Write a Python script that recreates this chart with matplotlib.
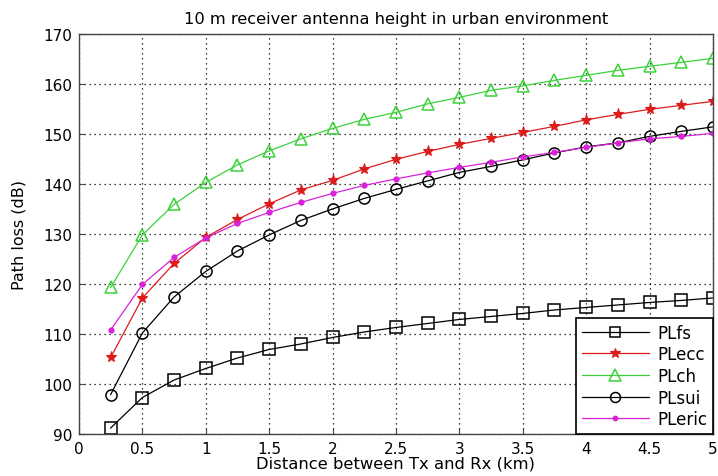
import numpy as np
import matplotlib
matplotlib.use("Agg")
import matplotlib.pyplot as plt

plt.rcParams["font.family"] = ["DejaVu Sans"]

# distance between Tx and Rx (km)
distance = [0.25, 0.5, 0.75, 1.0, 1.25, 1.5, 1.75, 2.0, 2.25, 2.5,
            2.75, 3.0, 3.25, 3.5, 3.75, 4.0, 4.25, 4.5, 4.75, 5.0]

pl_fs = [91.2, 97.3, 100.8, 103.1, 105.2, 106.9, 108.0, 109.3, 110.4, 111.3,
         112.1, 112.9, 113.5, 114.1, 114.8, 115.3, 115.8, 116.3, 116.7, 117.2]
pl_ecc = [105.3, 117.2, 124.1, 129.3, 132.9, 136.0, 138.8, 140.7, 143.0, 144.9,
          146.5, 147.9, 149.1, 150.3, 151.5, 152.8, 153.9, 154.9, 155.7, 156.5]
pl_ch = [119.3, 129.8, 135.9, 140.3, 143.8, 146.6, 149.0, 151.1, 152.9, 154.3,
         156.0, 157.3, 158.7, 159.6, 160.7, 161.7, 162.7, 163.5, 164.3, 165.1]
pl_sui = [97.9, 110.2, 117.4, 122.5, 126.6, 129.8, 132.7, 135.0, 137.1, 138.9,
          140.6, 142.3, 143.5, 144.8, 146.2, 147.4, 148.2, 149.5, 150.5, 151.4]
pl_eric = [110.8, 119.9, 125.3, 129.2, 132.1, 134.3, 136.3, 138.1, 139.7, 141.0,
           142.2, 143.3, 144.3, 145.4, 146.3, 147.3, 148.2, 149.0, 149.5, 150.1]

x_ticks = [0, 0.5, 1, 1.5, 2, 2.5, 3, 3.5, 4, 4.5, 5]
x_tick_labels = ["0", "0.5", "1", "1.5", "2", "2.5", "3", "3.5", "4", "4.5", "5"]
y_ticks = [90, 100, 110, 120, 130, 140, 150, 160, 170]

fig = plt.figure(figsize=(7.18, 4.77), dpi=100)
ax = fig.add_axes([0.110, 0.088, 0.883, 0.839])

ax.plot(distance, pl_fs, color="black", lw=0.9, marker="s", ms=8,
        mfc="none", mew=1.1, label="PLfs")
ax.plot(distance, pl_ecc, color="#dc1c1c", lw=0.9, marker="*", ms=8,
        mew=0.8, label="PLecc")
ax.plot(distance, pl_ch, color="#3cd23c", lw=0.9, marker="^", ms=9,
        mfc="none", mew=1.1, label="PLch")
ax.plot(distance, pl_sui, color="black", lw=0.9, marker="o", ms=8,
        mfc="none", mew=1.1, label="PLsui")
ax.plot(distance, pl_eric, color="#d822d8", lw=0.9, marker=".", ms=7,
        label="PLeric")

ax.set_xlim(0, 5)
ax.set_ylim(90, 170)
ax.set_xticks(x_ticks)
ax.set_xticklabels(x_tick_labels)
ax.set_yticks(y_ticks)
ax.tick_params(labelsize=11, direction="in", length=4, color="#444444", pad=5)
ax.grid(True, linestyle=(0, (1, 3)), color="black", linewidth=0.9)
for sp in ax.spines.values():
    sp.set_linewidth(1.0)
    sp.set_color("#444444")

ax.set_title("10 m receiver antenna height in urban environment",
             fontsize=11.7, pad=8)
ax.set_xlabel("Distance between Tx and Rx (km)", fontsize=11.8, labelpad=0)
ax.set_ylabel("Path loss (dB)", fontsize=11.5, labelpad=12)

leg = ax.legend(loc="lower right", borderaxespad=0.0, fontsize=12,
                fancybox=False, framealpha=1, edgecolor="black",
                handlelength=4.0, labelspacing=0.22, handletextpad=0.5,
                borderpad=0.35, markerscale=0.9)
leg.get_frame().set_linewidth(1.2)

fig.savefig("out.png", dpi=100)
